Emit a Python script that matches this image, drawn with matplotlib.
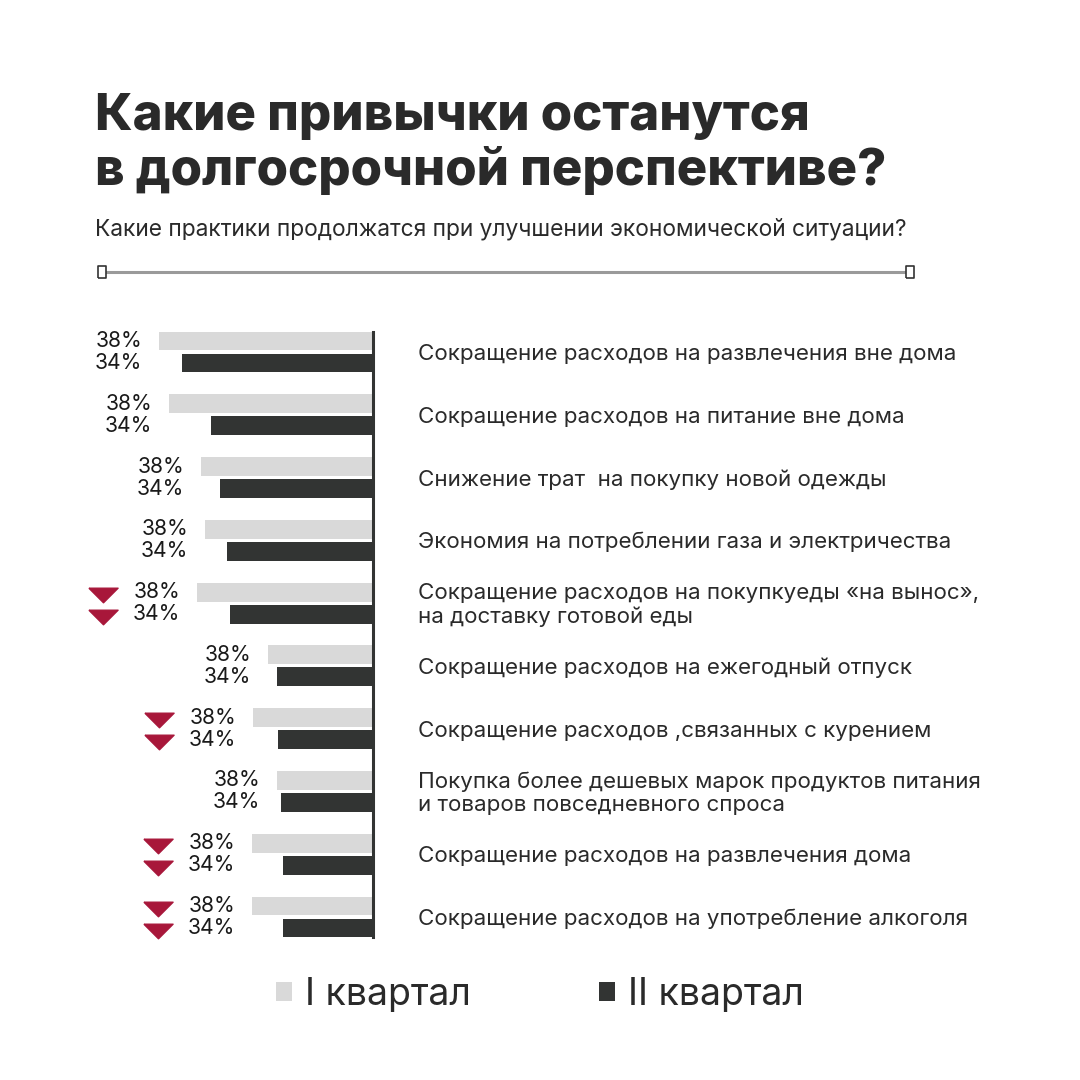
import matplotlib
matplotlib.use('Agg')
import matplotlib.pyplot as plt
import matplotlib.transforms as mtransforms
from matplotlib.patches import Patch

plt.rcParams['font.family'] = ['Inter', 'DejaVu Sans']

title_lines = ['Какие привычки останутся', 'в долгосрочной перспективе?']
subtitle = 'Какие практики продолжатся при улучшении экономической ситуации?'

categories = [
  'Сокращение расходов на развлечения вне дома',
  'Сокращение расходов на питание вне дома',
  'Снижение трат  на покупку новой одежды',
  'Экономия на потреблении газа и электричества',
  'Сокращение расходов на покупкуеды «на вынос»,\nна доставку готовой еды',
  'Сокращение расходов на ежегодный отпуск',
  'Сокращение расходов ,связанных с курением',
  'Покупка более дешевых марок продуктов питания\nи товаров повседневного спроса',
  'Сокращение расходов на развлечения дома',
  'Сокращение расходов на употребление алкоголя',
]
q1_values = [42.8, 40.8, 34.4, 33.6, 35.2, 21.0, 24.0, 19.2, 24.2, 24.2]
q2_values = [38.2, 32.4, 30.6, 29.2, 28.6, 19.2, 19.0, 18.4, 18.0, 18.0]
q1_labels = ['38%'] * 10
q2_labels = ['34%'] * 10
q1_down = [False, False, False, False, True, False, True, False, True, True]
q2_down = [False, False, False, False, True, False, True, False, True, True]
legend_labels = ['I квартал', 'II квартал']

LIGHT = '#d9d9d9'
DARK = '#323433'
RED = '#a8173a'
TEXT = '#2a2a2a'

W = H = 1080
fig = plt.figure(figsize=(10.8, 10.8), dpi=100)

def fx(px):
  return px / W

def fy(py):
  return 1 - py / H

# title block
fig.text(fx(95), fy(130), title_lines[0], fontsize=36.6, fontweight='heavy', color=TEXT, va='baseline')
fig.text(fx(95), fy(185), title_lines[1], fontsize=36.6, fontweight='heavy', color=TEXT, va='baseline')
fig.text(fx(95), fy(235), subtitle, fontsize=16.4, color=TEXT, va='baseline')

# divider line with end squares
line_ax = fig.add_axes([0, 0, 1, 1], zorder=-1)
line_ax.set_xlim(0, W)
line_ax.set_ylim(H, 0)
line_ax.axis('off')
box = [(-0.35, -0.5), (0.35, -0.5), (0.35, 0.5), (-0.35, 0.5), (-0.35, -0.5)]
line_ax.plot([102, 910], [272, 272], color='#9a9a9a', lw=2.2)
line_ax.plot([102, 910], [272, 272], ls='none', marker=box, ms=8,
             mfc='white', mec='#333333', mew=1.2)

# bars
ax = fig.add_axes([fx(123), fy(937), fx(373) - fx(123), (937 - 332) / H])
n = len(categories)
rows = list(range(n))
off = 0.175
bh = 0.30
ax.barh([r - off for r in rows], q1_values, height=bh, color=LIGHT)
ax.barh([r + off for r in rows], q2_values, height=bh, color=DARK)
ax.set_xlim(50, 0)
ax.set_ylim(n - 1 + 0.318, -0.318)
ax.axvline(0, color=DARK, lw=2.2, clip_on=False)
for s in ax.spines.values():
  s.set_visible(False)
ax.set_xticks([])
ax.set_yticks([])
ax.patch.set_alpha(0)

# value labels sit in one column per row, left of the light bar
tri = [(-1, 0.5), (1, 0.5), (0, -0.5), (-1, 0.5)]
for r in rows:
  lx = q1_values[r] + 3.4
  ax.text(lx, r - off, q1_labels[r], ha='right', va='center',
          fontsize=15.2, color='#1a1a1a', clip_on=False)
  ax.text(lx, r + off, q2_labels[r], ha='right', va='center',
          fontsize=15.2, color='#1a1a1a', clip_on=False)
  if q1_down[r]:
    ax.plot(q1_values[r] + 18.8, r - off + 0.04, marker=tri, ms=21, color=RED,
            ls='none', clip_on=False)
  if q2_down[r]:
    ax.plot(q1_values[r] + 18.8, r + off + 0.04, marker=tri, ms=21, color=RED,
            ls='none', clip_on=False)

trans = mtransforms.blended_transform_factory(fig.transFigure, ax.transData)
for r, cat in enumerate(categories):
  ax.text(fx(418), r + 0.03, cat, transform=trans, ha='left', va='center',
          fontsize=16.1, color=TEXT, linespacing=1.2, clip_on=False)

# legend
handles = [Patch(facecolor=LIGHT, edgecolor='none'), Patch(facecolor=DARK, edgecolor='none')]
fig.legend(handles, legend_labels, loc='center', bbox_to_anchor=(fx(540), fy(995)),
           ncol=2, frameon=False, fontsize=27, handlelength=0.43, handleheight=0.43,
           handletextpad=0.35, columnspacing=3.4, labelcolor=TEXT)

fig.savefig('out.png', dpi=100)
